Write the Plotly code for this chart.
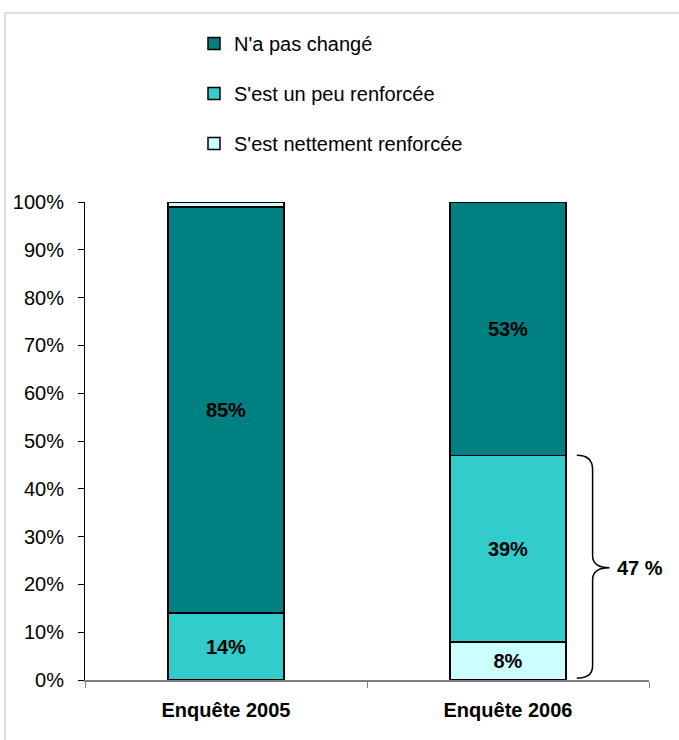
import plotly.graph_objects as go

categories = ["Enquête 2005", "Enquête 2006"]
series_names = ["S'est nettement renforcée", "S'est un peu renforcée", "N'a pas changé"]
nettement = [0, 8]
un_peu = [14, 39]
pas_change = [85, 53]
reste_2005 = [1, 0]
brace_label = "47 %"

colors = {"S'est nettement renforcée": "#CCFFFF",
          "S'est un peu renforcée": "#33CCCC",
          "N'a pas changé": "#008080"}
ranks = {"S'est nettement renforcée": 3,
         "S'est un peu renforcée": 2,
         "N'a pas changé": 1}

FONT = "Liberation Sans, Arial, sans-serif"
FS = 20
fig = go.Figure()

for name, vals in zip(series_names, [nettement, un_peu, pas_change]):
    fig.add_trace(go.Bar(
        x=categories, y=vals, name=name, legendgroup=name, legendrank=ranks[name],
        marker=dict(color=colors[name], line=dict(color="black", width=1.5)),
        text=[f"<b>{v}%</b>" if v >= 5 else "" for v in vals],
        textposition="inside", insidetextanchor="middle",
        textfont=dict(family=FONT, size=FS, color="black"),
        textangle=0, hoverinfo="skip",
    ))

fig.add_trace(go.Bar(
    x=categories, y=reste_2005, name="", showlegend=False,
    marker=dict(color="#CCFFFF", line=dict(color="black", width=1.5)),
    hoverinfo="skip",
))

top = nettement[1] + un_peu[1]
mid = top / 2
x0, x1, x2 = 0.872, 0.9, 0.93
path = (f"M {x0},{top} Q {x1},{top} {x1},{top-3} L {x1},{mid+2.5} "
        f"Q {x1},{mid} {x2},{mid} Q {x1},{mid} {x1},{mid-2.5} "
        f"L {x1},3 Q {x1},0.4 {x0},0.4")

fig.update_layout(
    width=679, height=740,
    barmode="stack", bargap=0.59,
    plot_bgcolor="white", paper_bgcolor="white",
    margin=dict(l=85, r=30, t=202, b=60, autoexpand=False),
    font=dict(family=FONT, size=FS, color="black"),
    showlegend=True,
    legend=dict(
        traceorder="grouped", tracegroupgap=21,
        x=(194 - 85) / 564, y=(680 - 24) / 478, xanchor="left", yanchor="top",
        font=dict(family=FONT, size=FS, color="black"),
        bgcolor="rgba(0,0,0,0)",
    ),
    xaxis=dict(
        tickvals=categories,
        ticktext=[f"<b>{c}</b>" for c in categories],
        tickson="boundaries", ticks="outside", ticklen=6, tickcolor="#808080",
        showline=True, linecolor="#808080", linewidth=1.5,
        tickfont=dict(family=FONT, size=FS, color="black"),
        tickangle=0, automargin=False,
        ticklabelstandoff=11, showgrid=False,
    ),
    yaxis=dict(
        range=[0, 100], dtick=10, ticksuffix="%",
        ticks="outside", ticklen=6, tickcolor="black",
        showline=True, linecolor="black", linewidth=1,
        tickfont=dict(family=FONT, size=FS, color="black"),
        automargin=False,
        ticklabelstandoff=10, showgrid=False, zeroline=False,
    ),
    shapes=[
        dict(type="path", xref="paper", yref="y", path=path,
             line=dict(color="black", width=1.5)),
        dict(type="rect", xref="paper", yref="paper",
             x0=-80 / 564, x1=1.3, y0=-0.3, y1=667 / 478,
             line=dict(color="#d4d4d4", width=1.5), layer="below"),
    ],
    annotations=[
        dict(text=f"<b>{brace_label}</b>", xref="paper", yref="y",
             x=0.984, y=mid, xanchor="center", yanchor="middle", showarrow=False,
             font=dict(family=FONT, size=FS, color="black")),
    ],
)

fig.write_html("out.html", config={"displayModeBar": False},
               post_script="document.body.style.margin='0';")
